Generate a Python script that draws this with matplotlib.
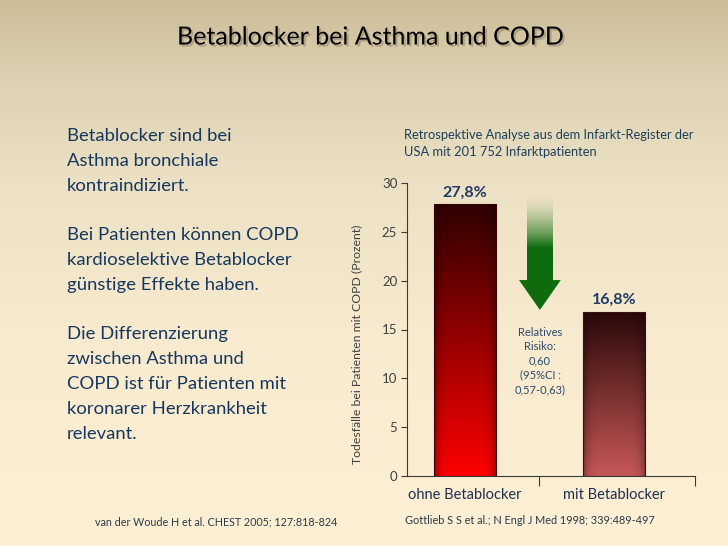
import numpy as np
import matplotlib
matplotlib.use("Agg")
import matplotlib.pyplot as plt
from matplotlib.colors import LinearSegmentedColormap, to_rgb
from matplotlib.patches import Polygon
import matplotlib.patheffects as pe

# ---------------- data ----------------
categories = ["ohne Betablocker", "mit Betablocker"]
values = [27.8, 16.8]
value_labels = ["27,8%", "16,8%"]
yticks = [0, 5, 10, 15, 20, 25, 30]
title = "Betablocker bei Asthma und COPD"
left_lines = ["Betablocker sind bei", "Asthma bronchiale", "kontraindiziert.", "",
              "Bei Patienten können COPD", "kardioselektive Betablocker", "günstige Effekte haben.", "",
              "Die Differenzierung", "zwischen Asthma und", "COPD ist für Patienten mit",
              "koronarer Herzkrankheit", "relevant."]
note_lines = ["Retrospektive Analyse aus dem Infarkt-Register der", "USA mit 201 752 Infarktpatienten"]
rr_lines = ["Relatives", "Risiko:", "0,60", "(95%CI :", "0,57-0,63)"]
ylabel = "Todesfälle bei Patienten mit COPD (Prozent)"
ref_left = "van der Woude H et al. CHEST 2005; 127:818-824"
ref_right = "Gottlieb S S et al.; N Engl J Med 1998; 339:489-497"

plt.rcParams['font.family'] = ['Lato', 'DejaVu Sans']

W, H = 728, 546
fig = plt.figure(figsize=(W / 100, H / 100), dpi=100)

def fx(px):
    return px / W

def fy(py):
    return 1 - py / H

# ---------------- background ----------------
bg = fig.add_axes([0, 0, 1, 1])
bg.set_axis_off()
stops = [(0, '#ccbd98'), (0.15, '#ddd2b3'), (0.35, '#ede2c5'), (0.6, '#f7eace'), (1, '#fdf0d5')]
cmap_bg = LinearSegmentedColormap.from_list('bg', stops)
grad = np.linspace(0, 1, 256).reshape(-1, 1)
bg.imshow(grad, aspect='auto', cmap=cmap_bg, extent=[0, 1, 0, 1], origin='upper')
bg.set_xlim(0, 1)
bg.set_ylim(0, 1)

# ---------------- title ----------------
fig.text(fx(370), fy(37), title, ha='center', va='center', fontsize=18, color='black',
         path_effects=[pe.withSimplePatchShadow(offset=(1.5, -1.5), shadow_rgbFace='#8a7a60', alpha=0.5)])

# ---------------- left text ----------------
for i, line in enumerate(left_lines):
    if line:
        fig.text(fx(67), fy(136 + i * 24.8), line, ha='left', va='center', fontsize=13.3, color='#17375e')

# ---------------- chart ----------------
ax = fig.add_axes([fx(407), fy(476), 288 / W, 293 / H])
ax.set_facecolor('none')
x = np.arange(len(categories))
bars = ax.bar(x, values, width=0.42, color='none', edgecolor='none', zorder=2)

def gradient_bar(bar, top_color, bottom_color, edge):
    x0, y0 = bar.get_x(), bar.get_y()
    w, h = bar.get_width(), bar.get_height()
    t = np.linspace(0, 1, 256)[:, None, None]
    top = np.array(to_rgb(top_color))
    bot = np.array(to_rgb(bottom_color))
    col = top + (bot - top) * t
    s = 1 - 0.35 * np.abs(np.linspace(-1, 1, 64)) ** 6
    img = np.clip(col * s[None, :, None], 0, 1)
    im = ax.imshow(img, extent=[x0, x0 + w, y0, y0 + h], aspect='auto', origin='upper', zorder=2)
    im.set_clip_path(bar)
    bar.set_edgecolor(edge)
    bar.set_linewidth(0.8)
    bar.set_zorder(3)

gradient_bar(bars[0], '#2e0000', '#ff0000', '#3a0000')
gradient_bar(bars[1], '#2a0808', '#c85858', '#3a1010')

ax.set_xlim(-0.389, 1.544)
ax.set_ylim(0, 30)

for xi, v, lbl in zip(x, values, value_labels):
    ax.annotate(lbl, (xi, v), xytext=(0, 3.5), textcoords='offset points', ha='center', va='bottom',
                fontsize=11.5, fontweight='bold', color='#1f3864')

# arrow (decorative)
ac = 0.503
shaft_w = 0.087
n = 200
t = np.linspace(0, 1, n)
alpha = np.clip(t / 0.62, 0, 1) ** 1.6
green = np.array(to_rgb('#0e6b0e'))
shaft = np.zeros((n, 1, 4))
shaft[:, 0, :3] = green
shaft[:, 0, 3] = alpha
ax.imshow(shaft, extent=[ac - shaft_w, ac + shaft_w, 20.0, 28.9], aspect='auto', origin='upper', zorder=2)
ax.add_patch(Polygon([(ac - 0.14, 20.06), (ac + 0.14, 20.06), (ac, 17.0)], closed=True,
                     facecolor='#0e6b0e', edgecolor='none', zorder=2))
ax.set_xlim(-0.389, 1.544)
ax.set_ylim(0, 30)

for spine in ['top', 'right']:
    ax.spines[spine].set_visible(False)
for spine in ['left', 'bottom']:
    ax.spines[spine].set_color('#3a3a3a')
    ax.spines[spine].set_linewidth(0.8)

ax.set_yticks(yticks)
ax.set_yticklabels([str(v) for v in yticks])
ax.tick_params(axis='y', direction='out', length=4, width=0.8, color='#3a3a3a',
               labelcolor='#404040', labelsize=9.5, pad=3)
ax.set_xticks([0.5, 1.544])
ax.set_xticklabels([])
ax.tick_params(axis='x', which='major', direction='out', length=7, width=0.8, color='#3a3a3a')
ax.set_xticks(x, minor=True)
ax.set_xticklabels(categories, minor=True)
ax.tick_params(axis='x', which='minor', length=0, pad=8.5, labelsize=10.5, labelcolor='#1f3050')

fig.text(fx(357), fy(344), ylabel, rotation=90, ha='center', va='center', fontsize=8.8, color='#404040')

# note text
for i, line in enumerate(note_lines):
    fig.text(fx(404), fy(135 + i * 17), line, ha='left', va='center', fontsize=9.3, color='#1f3f5a')

# relative risk text
for i, line in enumerate(rr_lines):
    fig.text(fx(540), fy(332 + i * 14.4), line, ha='center', va='center', fontsize=8, color='#2a4a6a')

# references
fig.text(fx(95), fy(522), ref_left, ha='left', va='center', fontsize=7.75, color='#2a3a4a')
fig.text(fx(405), fy(521), ref_right, ha='left', va='center', fontsize=7.85, color='#2a3a4a')

fig.savefig('out.png', dpi=100)
